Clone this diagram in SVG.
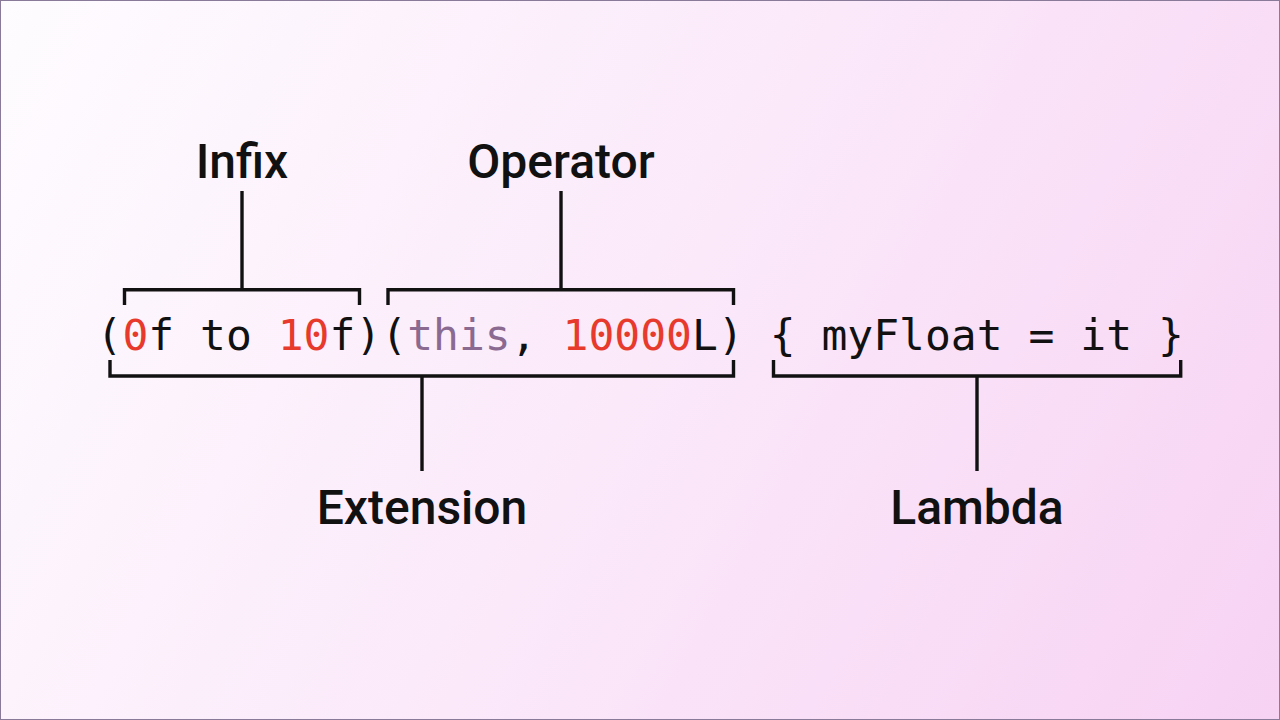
<svg xmlns="http://www.w3.org/2000/svg" width="1280" height="720" viewBox="0 0 1280 720">
  <defs>
    <linearGradient id="bg" x1="0" y1="0" x2="1280" y2="720" gradientUnits="userSpaceOnUse">
      <stop offset="0" stop-color="#fefcff"/>
      <stop offset="0.5" stop-color="#fbe9fa"/>
      <stop offset="1" stop-color="#f7d2f3"/>
    </linearGradient>
    <style>
      .code { font-family: "DejaVu Sans Mono", "Liberation Mono", monospace; font-size: 43px; fill: #111111; }
      .num { fill: #e83a2c; }
      .kw { fill: #8b6a92; }
      .label { font-family: Roboto, "Liberation Sans", sans-serif; font-weight: 500; font-size: 48px; fill: #111111; text-anchor: middle; }
      .line { fill: none; stroke: #111111; stroke-width: 3.4; stroke-linecap: butt; stroke-linejoin: miter; }
    </style>
  </defs>
  <rect x="0" y="0" width="1280" height="720" fill="url(#bg)"/>
  <rect x="0.5" y="0.5" width="1279" height="719" fill="none" stroke="#8a7a9a" stroke-width="1"/>

  <g id="code">
    <text class="code" x="96.5" y="350" xml:space="preserve">(<tspan class="num">0</tspan>f to <tspan class="num">10</tspan>f)(<tspan class="kw">this</tspan>, <tspan class="num">10000</tspan>L) { myFloat = it }</text>
  </g>

  <g id="connectors">
    <!-- Infix bracket -->
    <path class="line" d="M124.5 305 V289.7 H359.5 V305"/>
    <path class="line" d="M242 191 V289.7"/>
    <!-- Operator bracket -->
    <path class="line" d="M388 305 V289.7 H733.5 V305"/>
    <path class="line" d="M561 191 V289.7"/>
    <!-- Extension bracket -->
    <path class="line" d="M110 360 V376 H733.5 V360"/>
    <path class="line" d="M422 376 V471"/>
    <!-- Lambda bracket -->
    <path class="line" d="M773.5 360 V376 H1180.7 V360"/>
    <path class="line" d="M977 376 V471"/>
  </g>

  <g id="node-infix">
    <text class="label" x="242" y="178">Infix</text>
  </g>
  <g id="node-operator">
    <text class="label" x="561" y="178">Operator</text>
  </g>
  <g id="node-extension">
    <text class="label" x="422" y="524">Extension</text>
  </g>
  <g id="node-lambda">
    <text class="label" x="977" y="524">Lambda</text>
  </g>
</svg>
